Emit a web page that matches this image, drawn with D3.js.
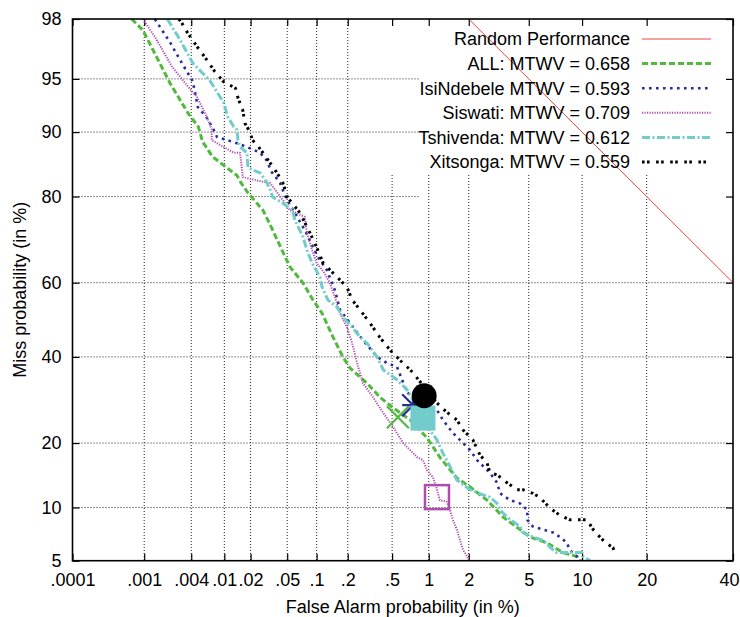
<!DOCTYPE html>
<html><head><meta charset="utf-8">
<script src="https://cdn.jsdelivr.net/npm/d3@7"></script>
<style>body{margin:0;background:#fff}svg{display:block}text{font-family:"Liberation Sans",Arial,Helvetica,sans-serif}</style>
</head><body><svg id="c" width="740" height="617"></svg>
<script>
// ---------- data ----------
const xTickValues=[0.0001,0.001,0.004,0.01,0.02,0.05,0.1,0.2,0.5,1,2,5,10,20,40];
const xTickLabels=[".0001",".001",".004",".01",".02",".05",".1",".2",".5","1","2","5","10","20","40"];
const yTickValues=[5,10,20,40,60,80,90,95,98];
const yTickLabels=["5","10","20","40","60","80","90","95","98"];
const legendLabels=["Random Performance","ALL: MTWV = 0.658","IsiNdebele MTWV = 0.593","Siswati: MTWV = 0.709","Tshivenda: MTWV = 0.612","Xitsonga: MTWV = 0.559"];
const randomFA=[1,50];
const randomMiss=[99,50];
const allFA=[0.00068,0.00096,0.00216,0.00364,0.0049,0.0055,0.0073,0.0108,0.014,0.0156,0.0187,0.0274,0.035,0.044,0.0534,0.073,0.092,0.113,0.145,0.18,0.21,0.30,0.39,0.51,0.71,0.97,1.22,1.64,2.04,2.69,3.44,4.42,5.1,6.4,7.9,9.4,9.8];
const allMiss=[98,97.6,94.7,92.1,90.6,88.8,86.7,85.0,83.8,82.5,80.7,77.3,73.0,68.3,64.1,59.9,55.4,51.8,45.3,40.0,37.1,33.3,29.9,27.4,24.7,21.0,17.4,14.0,12.7,10.9,8.9,7.6,6.9,6.4,5.6,5.3,5.0];
const ndebeleFA=[0.00138,0.0018,0.00216,0.0029,0.0041,0.0044,0.0048,0.0062,0.0073,0.0082,0.014,0.0182,0.0255,0.030,0.034,0.042,0.047,0.050,0.060,0.076,0.090,0.103,0.126,0.151,0.169,0.21,0.276,0.37,0.45,0.55,0.67,0.85,1.16,1.29,1.53,1.82,2.04,2.29,2.81,3.14,3.29,3.82,4.42,4.9,4.9,5.3,7.0,7.6,8.3,8.6,9.4,9.5];
const ndebeleMiss=[98,97.5,97.1,96.2,94.9,94.2,92.7,91.6,90.5,89.4,88.6,88.1,87.3,86.2,84.4,82.5,80.3,79.3,76.7,73.0,69.5,66.6,63.3,58.0,52.7,49.1,44.5,40.0,38.4,37.4,30.9,29.2,26.9,24.7,22.0,20.0,18.7,16.9,14.8,13.3,11.8,10.9,10.5,9.7,8.6,7.9,7.3,6.9,6.4,5.8,5.3,5.0];
const siswatiFA=[0.00096,0.0014,0.0023,0.0039,0.0047,0.0062,0.0071,0.0071,0.0098,0.0129,0.0152,0.0159,0.0163,0.0274,0.0328,0.045,0.053,0.076,0.080,0.090,0.10,0.12,0.135,0.151,0.169,0.196,0.22,0.24,0.276,0.34,0.42,0.51,0.62,0.81,0.90,0.97,1.08,1.16,1.22,1.38,1.46,1.53,1.64,1.73,1.82,1.95,2.0];
const siswatiMiss=[98,97.3,95.8,94.2,93.6,91.7,90.3,89.0,88.1,87.3,87.3,85.1,83.5,82.7,82.5,79.3,77.3,75.9,72.3,68.3,65.1,62.5,59.9,56.2,51.8,48.0,43.7,39.2,33.3,29.9,26.2,23.2,20.0,17.4,16.9,15.2,14.1,12.3,10.9,10.7,9.7,8.6,7.6,6.6,5.8,5.3,5.0];
const tshivendaFA=[0.0020,0.0029,0.0042,0.0067,0.0098,0.011,0.0129,0.014,0.0144,0.0152,0.0182,0.0187,0.021,0.0255,0.030,0.033,0.035,0.045,0.057,0.060,0.073,0.080,0.090,0.108,0.113,0.129,0.158,0.18,0.22,0.26,0.30,0.37,0.42,0.55,0.67,1.02,1.16,1.29,1.46,1.64,2.04,2.52,2.81,3.14,3.29,3.65,4.42,4.6,5.3,6.1,6.7,7.3,10.0,10.1,11.0];
const tshivendaMiss=[98,97.2,96.0,94.9,93.1,91.7,90.6,90.3,89.0,88.1,87.3,85.1,84.7,84.2,82.7,81.2,79.9,78.7,77.3,75.2,71.4,68.3,65.1,61.5,58.9,55.4,53.5,50.8,48.0,45.3,43.7,40.0,36.6,34.1,31.6,22.6,20.6,18.1,15.8,13.7,12.3,11.6,11.3,10.5,9.7,8.9,7.9,7.3,6.9,6.6,6.0,5.6,5.6,5.3,5.0];
const xitsongaFA=[0.0028,0.0030,0.0036,0.0047,0.0062,0.0077,0.0098,0.0135,0.0144,0.0163,0.0173,0.0197,0.021,0.0235,0.0274,0.0328,0.039,0.045,0.050,0.068,0.086,0.10,0.116,0.158,0.196,0.22,0.26,0.32,0.39,0.48,0.58,0.71,0.75,1.16,1.38,1.64,1.82,2.14,2.40,2.69,2.81,3.14,3.65,4.23,4.6,5.3,5.8,6.7,7.6,8.6,10.6,11.4,12.3,13.1,14.2,14.5];
const xitsongaMiss=[98,97.9,97.5,96.9,96.2,95.5,94.8,94.3,93.5,92.4,91.0,90.0,89.0,88.4,87.3,85.8,84.2,82.5,79.9,76.7,72.3,69.0,65.1,61.5,58.9,55.4,52.7,49.1,45.3,41.8,39.2,36.6,35.8,28.5,26.4,24.7,22.6,20.6,17.8,16.4,14.8,14.5,13.3,12.3,12.3,11.8,11.3,9.9,9.1,8.6,8.6,7.6,6.9,6.4,6.0,5.6];
// MTWV operating points (ALL, IsiNdebele, Siswati, Tshivenda, Xitsonga)
const mtwvFA=[0.56,0.75,1.16,0.90,0.92];
const mtwvMiss=[25.3,28.0,11.3,25.1,30.2];

// ---------- helpers ----------
function probit(p){
 const a=[-3.969683028665376e+01,2.209460984245205e+02,-2.759285104469687e+02,1.383577518672690e+02,-3.066479806614716e+01,2.506628277459239e+00];
 const b=[-5.447609879822406e+01,1.615858368580409e+02,-1.556989798598866e+02,6.680131188771972e+01,-1.328068155288572e+01];
 const c=[-7.784894002430293e-03,-3.223964580411365e-01,-2.400758277161838e+00,-2.549732539343734e+00,4.374664141464968e+00,2.938163982698783e+00];
 const d=[7.784695709041462e-03,3.224671290700398e-01,2.445134137142996e+00,3.754408661907416e+00];
 const pl=0.02425,ph=1-pl;let q,r;
 if(p<pl){q=Math.sqrt(-2*Math.log(p));return (((((c[0]*q+c[1])*q+c[2])*q+c[3])*q+c[4])*q+c[5])/((((d[0]*q+d[1])*q+d[2])*q+d[3])*q+1);}
 if(p<=ph){q=p-0.5;r=q*q;return (((((a[0]*r+a[1])*r+a[2])*r+a[3])*r+a[4])*r+a[5])*q/(((((b[0]*r+b[1])*r+b[2])*r+b[3])*r+b[4])*r+1);}
 q=Math.sqrt(-2*Math.log(1-p));return -(((((c[0]*q+c[1])*q+c[2])*q+c[3])*q+c[4])*q+c[5])/((((d[0]*q+d[1])*q+d[2])*q+d[3])*q+1);
}
const L=72.5,R=733,T=19,B=560.7;
const xLin=d3.scaleLinear().domain([probit(0.000001),probit(0.40)]).range([L,R]);
const yLin=d3.scaleLinear().domain([probit(0.05),probit(0.98)]).range([B,T]);
const X=v=>xLin(probit(v/100));
const Y=v=>yLin(probit(v/100));

const svg=d3.select("#c");
svg.append("defs").append("clipPath").attr("id","clip").append("rect").attr("x",L).attr("y",T).attr("width",R-L).attr("height",B-T);

// grid (avoiding the key area)
const grid=svg.append("g").attr("stroke","#222").attr("stroke-width",1).attr("stroke-dasharray","1,2");
xTickValues.forEach(v=>{const x=X(v);if(x<=L+1||x>=R-1)return;
 grid.append("line").attr("x1",x).attr("x2",x).attr("y1",x>385?175:T).attr("y2",B);});
yTickValues.forEach(v=>{const y=Y(v);if(y<=T+1||y>=B-1)return;
 grid.append("line").attr("y1",y).attr("y2",y).attr("x1",L).attr("x2",y<200?420:R);});

// axes
const fmtX=(d,i)=>xTickLabels[i];
const fmtY=(d,i)=>yTickLabels[i];
const xb=svg.append("g").attr("transform",`translate(0,${B})`)
 .call(d3.axisBottom(xLin).tickValues(xTickValues.map(v=>probit(v/100))).tickFormat(fmtX).tickSize(-7).tickPadding(13));
const xt=svg.append("g").attr("transform",`translate(0,${T})`)
 .call(d3.axisTop(xLin).tickValues(xTickValues.map(v=>probit(v/100))).tickFormat("").tickSize(-7));
const yl=svg.append("g").attr("transform",`translate(${L},0)`)
 .call(d3.axisLeft(yLin).tickValues(yTickValues.map(v=>probit(v/100))).tickFormat(fmtY).tickSize(-7).tickPadding(11));
const yr=svg.append("g").attr("transform",`translate(${R},0)`)
 .call(d3.axisRight(yLin).tickValues(yTickValues.map(v=>probit(v/100))).tickFormat("").tickSize(-7));
[xb,xt,yl,yr].forEach(g=>{g.select(".domain").remove();g.selectAll(".tick line").attr("stroke","#000").attr("stroke-width",1.2);
 g.selectAll("text").attr("font-size",18).attr("fill","#000").attr("font-family","'Liberation Sans',Arial,sans-serif");});
// keep the last x label inside the window
xb.selectAll(".tick text").filter((d,i)=>i===xTickValues.length-1).attr("text-anchor","end").attr("x",739-R);

// curves
const plot=svg.append("g").attr("clip-path","url(#clip)");
const line=d3.line().x(d=>X(d[0])).y(d=>Y(d[1]));
const styles=[
 {fa:randomFA,miss:randomMiss,color:"#e8483f",w:1,dash:null},
 {fa:allFA,miss:allMiss,color:"#4fba3c",w:3,dash:"6,3"},
 {fa:ndebeleFA,miss:ndebeleMiss,color:"#2b2b9a",w:2.6,dash:"2.6,4.4"},
 {fa:siswatiFA,miss:siswatiMiss,color:"#b04cb0",w:2,dash:"1.2,1.3"},
 {fa:tshivendaFA,miss:tshivendaMiss,color:"#72cccc",w:3,dash:"8,2.5,2,2.5"},
 {fa:xitsongaFA,miss:xitsongaMiss,color:"#000",w:3,dash:"2.6,2.4,2.6,6.5"}
];
styles.forEach(s=>{
 const pts=s.fa.map((f,i)=>[f,s.miss[i]]);
 plot.append("path").attr("d",line(pts)).attr("fill","none").attr("stroke",s.color)
  .attr("stroke-width",s.w).attr("stroke-dasharray",s.dash).attr("stroke-linejoin","round");
});

// MTWV markers
const mk=svg.append("g");
const mx=mtwvFA.map(X), my=mtwvMiss.map(Y);
mk.append("path").attr("d",`M${mx[0]-11},${my[0]-11}L${mx[0]+11},${my[0]+11}M${mx[0]-11},${my[0]+11}L${mx[0]+11},${my[0]-11}`).attr("stroke",styles[1].color).attr("stroke-width",2.2);
mk.append("path").attr("d",`M${mx[1]-11},${my[1]}L${mx[1]+11},${my[1]}M${mx[1]},${my[1]-11}L${mx[1]},${my[1]+11}M${mx[1]-11},${my[1]-11}L${mx[1]+11},${my[1]+11}M${mx[1]-11},${my[1]+11}L${mx[1]+11},${my[1]-11}`).attr("stroke",styles[2].color).attr("stroke-width",2.2);
mk.append("rect").attr("x",mx[2]-12).attr("y",my[2]-12).attr("width",24).attr("height",24).attr("fill","none").attr("stroke",styles[3].color).attr("stroke-width",2.5);
mk.append("rect").attr("x",mx[3]-12.5).attr("y",my[3]-12.5).attr("width",25).attr("height",25).attr("fill",styles[4].color);
mk.append("circle").attr("cx",mx[4]).attr("cy",my[4]).attr("r",12.5).attr("fill","#000");

// border
svg.append("rect").attr("x",L).attr("y",T).attr("width",R-L).attr("height",B-T).attr("fill","none").attr("stroke","#000").attr("stroke-width",1.6);

// legend
const lg=svg.append("g");
legendLabels.forEach((t,i)=>{
 const y=39+i*24.6;
 lg.append("text").attr("x",630).attr("y",y).attr("dy","0.36em").attr("text-anchor","end").attr("font-size",18).attr("fill","#000").text(t);
 lg.append("line").attr("x1",642).attr("x2",711).attr("y1",y).attr("y2",y).attr("stroke",styles[i].color)
  .attr("stroke-width",styles[i].w).attr("stroke-dasharray",styles[i].dash);
});

// axis titles
svg.append("text").attr("x",(L+R)/2).attr("y",613).attr("text-anchor","middle").attr("font-size",18).text("False Alarm probability (in %)");
svg.append("text").attr("transform",`translate(25.5,${(T+B)/2}) rotate(-90)`).attr("text-anchor","middle").attr("font-size",18).text("Miss probability (in %)");
</script></body></html>
